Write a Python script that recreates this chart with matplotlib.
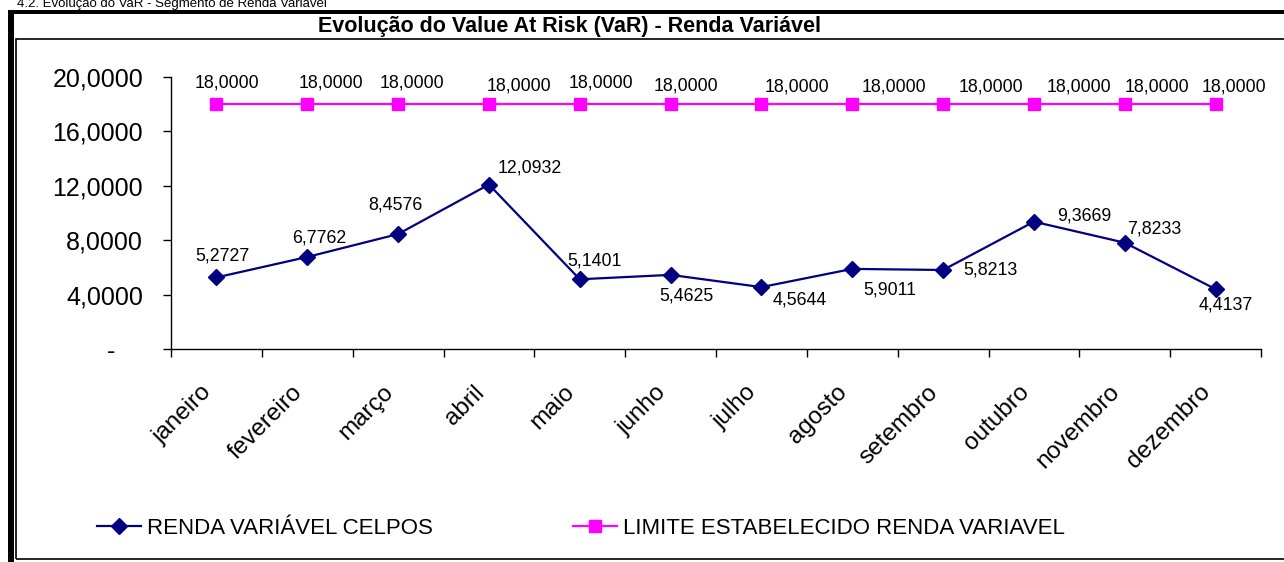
import matplotlib
matplotlib.use("Agg")
import matplotlib.pyplot as plt
import matplotlib.transforms as mtransforms
from matplotlib.patches import Rectangle

plt.rcParams['font.family'] = ['Liberation Sans', 'DejaVu Sans']

# dados
meses = ['janeiro', 'fevereiro', 'março', 'abril', 'maio', 'junho',
         'julho', 'agosto', 'setembro', 'outubro', 'novembro', 'dezembro']
var_celpos = [5.2727, 6.7762, 8.4576, 12.0932, 5.1401, 5.4625,
              4.5644, 5.9011, 5.8213, 9.3669, 7.8233, 4.4137]
limite = [18.0] * 12
y_ticks = [0, 4, 8, 12, 16, 20]

serie_celpos = 'RENDA VARIÁVEL CELPOS'
serie_limite = 'LIMITE ESTABELECIDO RENDA VARIAVEL'
titulo = 'Evolução do Value At Risk (VaR) - Renda Variável'
cabecalho = '4.2. Evolução do VaR - Segmento de Renda Variável'

# deslocamento dos rótulos (pixels)
off_celpos = [(6, 21), (12, 19), (-3, 29), (41, 17), (15, 18), (16, -21),
              (38, -13), (38, -21), (47, 0), (50, 6), (30, 14), (10, -16)]
off_limite = [(11, 21), (24, 21), (14, 21), (30, 18), (21, 21), (15, 18),
              (36, 17), (42, 17), (48, 17), (45, 17), (32, 17), (18, 17)]

W, H = 1284, 562
fig = plt.figure(figsize=(W / 100, H / 100), dpi=100)


def fx(x):
    return x / W


def fy(y):
    return 1 - y / H


# molduras
fig.patches.append(Rectangle((fx(16), fy(559)), fx(1300 - 16), fy(39) - fy(559),
                             transform=fig.transFigure, fill=False,
                             edgecolor='black', linewidth=1.2))
fig.patches.append(Rectangle((fx(8), fy(14)), fx(W), fy(10) - fy(14),
                             transform=fig.transFigure, color='black', lw=0))
fig.patches.append(Rectangle((fx(8), 0), fx(6), fy(10),
                             transform=fig.transFigure, color='black', lw=0))

fig.text(fx(17), fy(7.5), cabecalho, fontsize=9.5, va='baseline', ha='left')
fig.text(fx(570), fy(32), titulo, fontsize=15.5, fontweight='bold',
         va='baseline', ha='center')

ax = fig.add_axes([fx(171), fy(349.3), fx(1090), fy(76.8) - fy(349.3)])
ax.set_facecolor('none')

x = [i + 0.5 for i in range(len(meses))]
ax.plot(x, var_celpos, color='#000080', lw=1.6, marker='D', ms=8.5,
        label=serie_celpos, clip_on=False)
ax.plot(x, limite, color='#FF00FF', lw=1.6, marker='s', ms=9,
        label=serie_limite, clip_on=False)

for xi, v, (dx, dy) in zip(x, var_celpos, off_celpos):
    ax.annotate(f'{v:.4f}'.replace('.', ','), (xi, v), xytext=(dx, dy),
                textcoords='offset pixels', ha='center', va='center',
                fontsize=12.8)
for xi, v, (dx, dy) in zip(x, limite, off_limite):
    ax.annotate(f'{v:.4f}'.replace('.', ','), (xi, v), xytext=(dx, dy),
                textcoords='offset pixels', ha='center', va='center',
                fontsize=12.8)

ax.set_xlim(0, len(meses))
ax.set_ylim(0, 20)
ax.spines['top'].set_visible(False)
ax.spines['right'].set_visible(False)
for s in ('left', 'bottom'):
    ax.spines[s].set_linewidth(1.0)

ax.set_yticks(y_ticks)
ax.set_yticklabels([f'{v:.4f}'.replace('.', ',') if v else '-    ' for v in y_ticks])
ax.tick_params(axis='y', direction='out', length=6, width=1, labelsize=18, pad=14)

ax.set_xticks(range(len(meses) + 1))
ax.set_xticklabels([])
ax.tick_params(axis='x', which='major', direction='out', length=6, width=1)
ax.set_xticks(x, minor=True)
ax.set_xticklabels(meses, minor=True)
ax.tick_params(axis='x', which='minor', length=0, labelsize=17.5, pad=23)
shift = mtransforms.ScaledTranslation(-16 / 100, 0, fig.dpi_scale_trans)
for lab in ax.get_xticklabels(minor=True):
    lab.set_rotation(45)
    lab.set_rotation_mode('anchor')
    lab.set_ha('right')
    lab.set_va('top')
    lab.set_transform(lab.get_transform() + shift)

fig.legend(loc='center left', bbox_to_anchor=(fx(97), fy(528)), ncol=2,
           frameon=False, fontsize=16, borderpad=0, borderaxespad=0,
           handlelength=2.0, handletextpad=0.25, columnspacing=6.3)

fig.savefig('out.png', dpi=100)
